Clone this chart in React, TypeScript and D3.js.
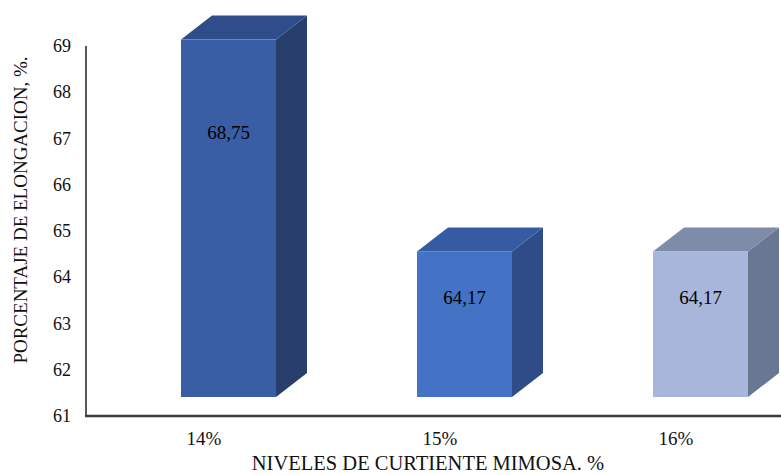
import React from "react";
import { scaleLinear, scalePoint } from "d3";

const categories = ["14%", "15%", "16%"];
const values = [68.75, 64.17, 64.17];
const valueLabels = ["68,75", "64,17", "64,17"];
const yTicks = [61, 62, 63, 64, 65, 66, 67, 68, 69];

// front / side / top colours per bar
const faceColors = [
  { front: "#3A5EA6", side: "#283F6E", top: "#2F4D8B" },
  { front: "#4472C4", side: "#2D4C88", top: "#355CA3" },
  { front: "#A8B6DC", side: "#6A7793", top: "#7E8BA9" },
];

const W = 781;
const H = 475;
const font = "Liberation Serif";

export default function App() {
  const y = scaleLinear().domain([61, 69]).range([416, 46]);
  const x = scalePoint<string>().domain(categories).range([86, 794]).padding(0.5);

  const barW = 95;
  const depthX = 31;
  const depthY = 24;
  const frontShift = -18;
  const base = y(61) - 19;

  return (
    <svg width={W} height={H} style={{ display: "block", fontFamily: font }}>
      <style>{`body{margin:0}`}</style>
      <rect width={W} height={H} fill="white" />

      {/* y ticks */}
      {yTicks.map((t) => (
        <text key={t} x={71} y={y(t)} textAnchor="end" dominantBaseline="central" fontSize={18} fill="#111">
          {t}
        </text>
      ))}

      {/* bars */}
      {categories.map((c, i) => {
        const cx = x(c) as number;
        const left = cx - 23;
        const right = left + barW;
        const top = y(values[i]) + frontShift;
        const h = base - top;
        const col = faceColors[i];
        return (
          <g key={c}>
            <polygon
              points={`${right},${top} ${right + depthX},${top - depthY} ${right + depthX},${base - depthY} ${right},${base}`}
              fill={col.side}
            />
            <polygon
              points={`${left},${top} ${left + depthX},${top - depthY} ${right + depthX},${top - depthY} ${right},${top}`}
              fill={col.top}
            />
            <rect x={left} y={top} width={barW} height={h} fill={col.front} />
            <text
              x={left + barW / 2}
              y={top + 13.5 + 0.223 * h}
              textAnchor="middle"
              dominantBaseline="central"
              fontSize={19}
              fill="#000"
            >
              {valueLabels[i]}
            </text>
          </g>
        );
      })}

      {/* axes */}
      <line x1={86} x2={86} y1={y(69)} y2={y(61)} stroke="#222" strokeWidth={1.5} />
      <line x1={85} x2={W} y1={y(61)} y2={y(61)} stroke="#3a3a3a" strokeWidth={2.5} />

      {/* x labels */}
      {categories.map((c) => (
        <text key={c} x={x(c) as number} y={438} textAnchor="middle" dominantBaseline="central" fontSize={19} fill="#111">
          {c}
        </text>
      ))}

      <text x={428} y={470} textAnchor="middle" fontSize={20.5} fill="#111">
        NIVELES DE CURTIENTE MIMOSA. %
      </text>
      <text
        transform="translate(27,210) rotate(-90)"
        textAnchor="middle"
        fontSize={19}
        fill="#111"
      >
        PORCENTAJE DE ELONGACION, %.
      </text>
    </svg>
  );
}
